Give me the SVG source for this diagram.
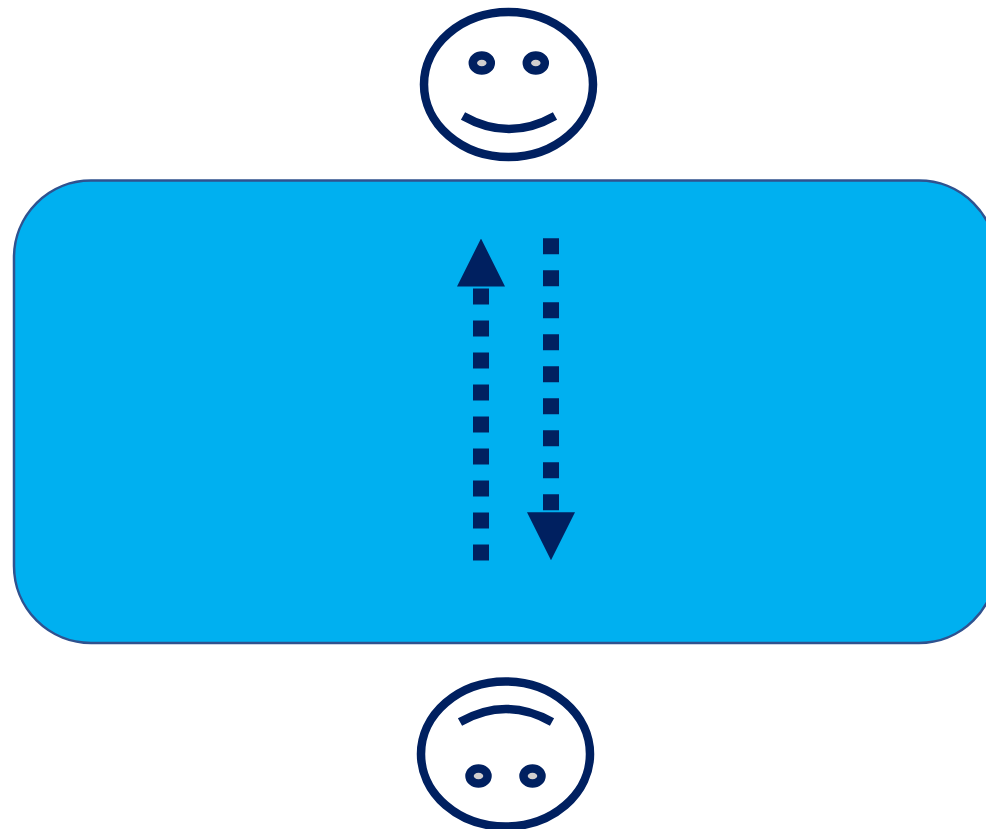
<svg xmlns="http://www.w3.org/2000/svg" width="986" height="829" viewBox="0 0 986 829">
  <style>
    .face { fill: #ffffff; stroke: #002060; stroke-width: 8.500; }
    .eye { fill: #d0cece; stroke: #002060; stroke-width: 8.500; }
    .mouth { fill: none; stroke: #002060; stroke-width: 8.500; }
    .flow { fill: none; stroke: #002060; stroke-width: 16; stroke-dasharray: 16 16; marker-end: url(#head); }
  </style>
  <defs>
    <marker id="head" markerUnits="userSpaceOnUse" viewBox="0 0 50 48" markerWidth="50" markerHeight="48" refX="0" refY="24" orient="auto">
      <path d="M2 0 L50 24 L2 48 Z" fill="#002060"/>
    </marker>
  </defs>
  <rect width="986" height="829" fill="#ffffff"/>
  <g id="panel">
    <rect x="14" y="180.500" width="982" height="462.500" rx="77" ry="77" fill="#00b0f0" stroke="#2f528f" stroke-width="2.500"/>
  </g>
  <g id="face-top">
    <ellipse class="face" cx="508.500" cy="84.500" rx="84.500" ry="72.500"/>
    <ellipse class="eye" cx="481.800" cy="63" rx="9" ry="7.500"/>
    <ellipse class="eye" cx="535.800" cy="63" rx="9" ry="7.500"/>
    <path class="mouth" d="M463 116 Q509 142 555 116"/>
  </g>
  <g id="face-bottom">
    <ellipse class="face" cx="505.500" cy="754" rx="84.500" ry="72.500"/>
    <ellipse class="eye" cx="478.500" cy="776" rx="9" ry="7.500"/>
    <ellipse class="eye" cx="532.500" cy="776" rx="9" ry="7.500"/>
    <path class="mouth" d="M460 722 Q506 696 552 722"/>
  </g>
  <g id="connectors">
    <path class="flow" d="M481 560.500 V288.500"/>
    <path class="flow" d="M551 238.300 V510.300"/>
  </g>
</svg>
